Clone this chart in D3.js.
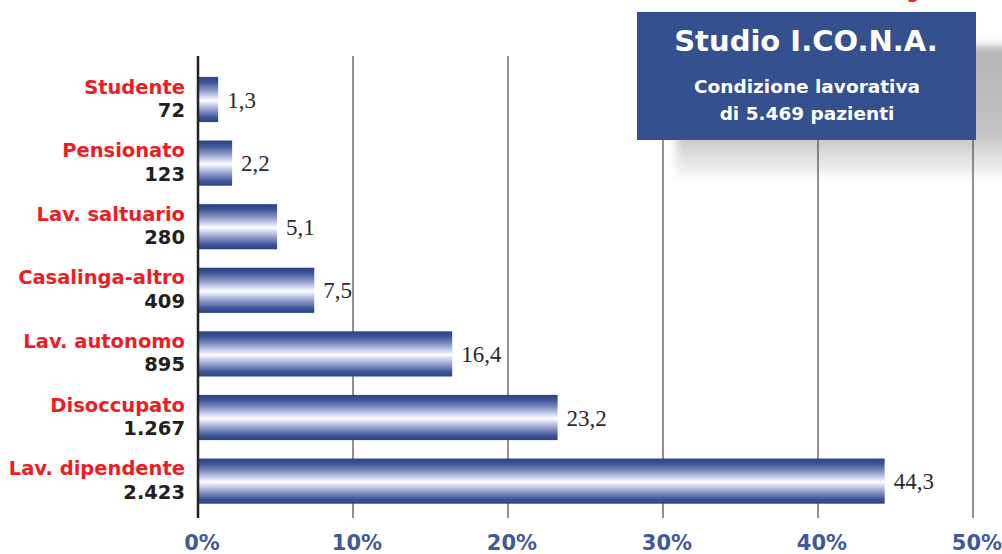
<!DOCTYPE html>
<html><head><meta charset="utf-8">
<script src="https://cdn.jsdelivr.net/npm/d3@7"></script>
<style>
html,body{margin:0;padding:0;background:#fff;}
svg{display:block;}
</style></head>
<body>
<svg id="chart" width="1002" height="554"></svg>
<script>
const categories = ["Studente","Pensionato","Lav. saltuario","Casalinga-altro","Lav. autonomo","Disoccupato","Lav. dipendente"];
const counts = ["72","123","280","409","895","1.267","2.423"];
const percents = [1.3, 2.2, 5.1, 7.5, 16.4, 23.2, 44.3];
const tickValues = [0,10,20,30,40,50];
const tickLabels = ["0%","10%","20%","30%","40%","50%"];
const titleText = "Studio I.CO.N.A.";
const subtitleLines = ["Condizione lavorativa","di 5.469 pazienti"];

const SANS = "DejaVu Sans, Verdana, sans-serif";
const svg = d3.select("#chart");
const fmt = v => d3.format(".1f")(v).replace(".", ",");

const x = d3.scaleLinear().domain([0,50]).range([198,973]);
const y = d3.scaleBand().domain(categories).range([67.7,512.9]).paddingInner(0.29).paddingOuter(0.145);

const defs = svg.append("defs");
const grad = defs.append("linearGradient").attr("id","barGrad").attr("x1",0).attr("y1",0).attr("x2",0).attr("y2",1);
[[0,"#2b4183"],[0.12,"#3d5596"],[0.3,"#8d9acb"],[0.44,"#d4daf0"],[0.52,"#ffffff"],[0.6,"#d4daf0"],[0.74,"#8d9acb"],[0.9,"#3d5596"],[1,"#2b4183"]]
  .forEach(([o,c]) => grad.append("stop").attr("offset",o).attr("stop-color",c));

const sgrad = defs.append("linearGradient").attr("id","shGrad").attr("x1",0).attr("y1",0).attr("x2",0).attr("y2",1);
[[0,"#b4b4b4"],[0.7,"#c4c4c4"],[0.8,"#d8d8d8"],[1,"#f6f6f6"]].forEach(([o,c]) => sgrad.append("stop").attr("offset",o).attr("stop-color",c));
const blur = defs.append("filter").attr("id","blur").attr("x","-20%").attr("y","-20%").attr("width","140%").attr("height","140%");
blur.append("feGaussianBlur").attr("stdDeviation",4);

// red header text (cut off at top, as in the reference)
svg.append("text").attr("x",888).attr("y",-2).attr("font-family",SANS)
  .attr("font-weight","bold").attr("font-size",18).attr("fill","#ee1c25").text("Fig. 1");

// shadow behind title box
svg.append("rect").attr("x",676).attr("y",46).attr("width",340).attr("height",130)
  .attr("fill","url(#shGrad)").attr("filter","url(#blur)");

// gridlines
svg.append("g").selectAll("line").data(tickValues.slice(1)).join("line")
  .attr("x1",d=>x(d)).attr("x2",d=>x(d)).attr("y1",56).attr("y2",518)
  .attr("stroke","#555").attr("stroke-width",1.3);

// bars
svg.append("g").selectAll("rect").data(percents).join("rect")
  .attr("x",x(0)).attr("y",(d,i)=>y(categories[i]))
  .attr("width",d=>x(d)-x(0)).attr("height",y.bandwidth())
  .attr("fill","url(#barGrad)");

// y axis line
svg.append("line").attr("x1",x(0)).attr("x2",x(0)).attr("y1",56).attr("y2",518)
  .attr("stroke","#222").attr("stroke-width",2.5);

// value labels
svg.append("g").selectAll("text").data(percents).join("text")
  .attr("x",d=>x(d)+9).attr("y",(d,i)=>y(categories[i])+y.bandwidth()/2+8)
  .attr("font-family","Liberation Serif, DejaVu Serif, serif").attr("font-size",23).attr("fill","#2a2a2a")
  .text(d=>fmt(d));

// category labels
const lab = svg.append("g").attr("font-family",SANS).attr("font-weight","bold").attr("text-anchor","end");
lab.selectAll("text.cat").data(categories).join("text").attr("class","cat")
  .attr("x",185).attr("y",d=>y(d)+y.bandwidth()/2-6)
  .attr("font-size",19.5).attr("fill","#ee1c25").text(d=>d);
lab.selectAll("text.cnt").data(counts).join("text").attr("class","cnt")
  .attr("x",185).attr("y",(d,i)=>y(categories[i])+y.bandwidth()/2+17.5)
  .attr("font-size",19.5).attr("fill","#231f20").text(d=>d);

// x tick labels
svg.append("g").selectAll("text").data(tickValues).join("text")
  .attr("x",d=>x(d)+4).attr("y",550).attr("text-anchor","middle")
  .attr("font-family",SANS).attr("font-weight","bold").attr("font-size",21)
  .attr("fill","#3f5a9a").text((d,i)=>tickLabels[i]);

// title box
svg.append("rect").attr("x",637).attr("y",12).attr("width",339).attr("height",128).attr("fill","#34508f");
svg.append("text").attr("x",806).attr("y",51).attr("text-anchor","middle")
  .attr("font-family",SANS).attr("font-weight","bold").attr("font-size",29)
  .attr("fill","#fff").text(titleText);
svg.append("g").selectAll("text").data(subtitleLines).join("text")
  .attr("x",807).attr("y",(d,i)=>93+i*27).attr("text-anchor","middle")
  .attr("font-family",SANS).attr("font-weight","bold").attr("font-size",18.5)
  .attr("fill","#fff").text(d=>d);
</script>
</body></html>
